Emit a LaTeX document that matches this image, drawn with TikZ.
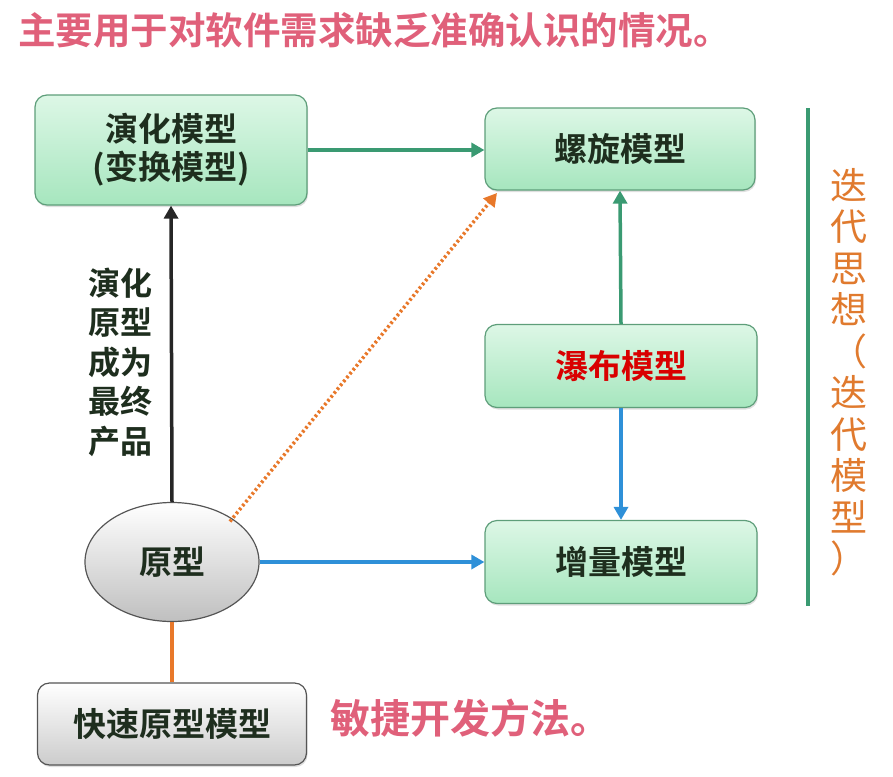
\documentclass[tikz,border=0pt]{standalone}
\usepackage{fontspec}
\setmainfont{Noto Sans CJK SC}[BoldFont={Noto Sans CJK SC Bold}]
\usetikzlibrary{shapes.geometric,arrows.meta,shadows}
\definecolor{titlered}{HTML}{E0607A}
\definecolor{boxtext}{HTML}{1E2E1E}
\definecolor{boxedge}{HTML}{5E9E7A}
\definecolor{boxtop}{HTML}{DDF7E6}
\definecolor{boxbot}{HTML}{A6E6BE}
\definecolor{arrgreen}{HTML}{3A9A72}
\definecolor{arrblue}{HTML}{2E90D8}
\definecolor{arrorange}{HTML}{E8782A}
\definecolor{sideorange}{HTML}{E07A2E}
\definecolor{grayedge}{HTML}{555555}
\tikzset{
  gbox/.style={draw=boxedge, line width=1.2pt, rounded corners=12pt, top color=boxtop, bottom color=boxbot,
    inner sep=0pt, align=center, text=boxtext, font=\bfseries\fontsize{33}{38}\selectfont,
    drop shadow={shadow xshift=1pt, shadow yshift=-2pt, opacity=0.25}},
  graybox/.style={draw=grayedge, line width=1.2pt, rounded corners=12pt, top color=white, bottom color=black!20,
    inner sep=0pt, align=center, text=boxtext, font=\bfseries\fontsize{33}{38}\selectfont,
    drop shadow={shadow xshift=1pt, shadow yshift=-2pt, opacity=0.25}},
  arr/.style={line width=3.5pt, -{Triangle[length=13pt,width=14pt]}},
}
\begin{document}
\begin{tikzpicture}[x=1pt,y=-1pt]
\useasboundingbox (0,0) rectangle (893,776);
\node[font=\bfseries\fontsize{37.5}{40}\selectfont, text=titlered, anchor=west, inner sep=0pt] (title) at (18,30) {主要用于对软件需求缺乏准确认识的情况。};

\node[gbox, minimum width=272pt, minimum height=110pt] (evo) at (171,150) {演化模型\\(变换模型)};
\node[gbox, minimum width=270pt, minimum height=82pt] (spiral) at (620,149) {螺旋模型};
\node[gbox, minimum width=272pt, minimum height=83pt, text=red!85!black] (water) at (621,366) {瀑布模型};
\node[gbox, minimum width=272pt, minimum height=83pt] (incr) at (621,562) {增量模型};
\node[graybox, minimum width=269pt, minimum height=82pt] (rapid) at (172,724) {快速原型模型};
\node[ellipse, draw=grayedge, line width=1.2pt, top color=white, bottom color=black!25, minimum width=174pt, minimum height=119pt, inner sep=0pt, text=boxtext, font=\bfseries\fontsize{33}{38}\selectfont] (proto) at (172,562) {原型};

\node[align=center, text=boxtext, font=\bfseries\fontsize{32}{39.5}\selectfont, inner sep=0pt] (lbl) at (120,362) {演化\\原型\\成为\\最终\\产品};

\draw[arr, arrgreen] (evo.east |- 0,150) -- (spiral.west |- 0,150);
\draw[arr, black!85] (proto.north) -- (evo.south);
\draw[arr, arrblue] (proto.east) -- (incr.west |- proto.east);
\draw[arr, arrgreen] (water.north) -- (spiral.south);
\draw[arr, arrblue] (water.south) -- (incr.north);
\draw[line width=3.5pt, arrorange, dash pattern=on 2.5pt off 2.5pt, -{Triangle[length=13pt,width=14pt]}] (proto.north east) ++(-4,2) coordinate (ds) -- (497,193) coordinate (de);
\draw[line width=3.5pt, arrorange] (rapid.north) -- (proto.south);

\coordinate (vtop) at (808,108);
\coordinate (vbot) at (808,606);
\draw[line width=4pt, arrgreen] (vtop) -- (vbot);
\node[align=center, text=sideorange, font=\fontsize{37}{41.5}\selectfont, inner sep=0pt] (side) at (849,372) {迭\\代\\思\\想\\（\\迭\\代\\模\\型\\）};

\node[font=\bfseries\fontsize{40}{44}\selectfont, text=titlered, anchor=west, inner sep=0pt] (agile) at (330,718) {敏捷开发方法。};
\end{tikzpicture}
\end{document}
